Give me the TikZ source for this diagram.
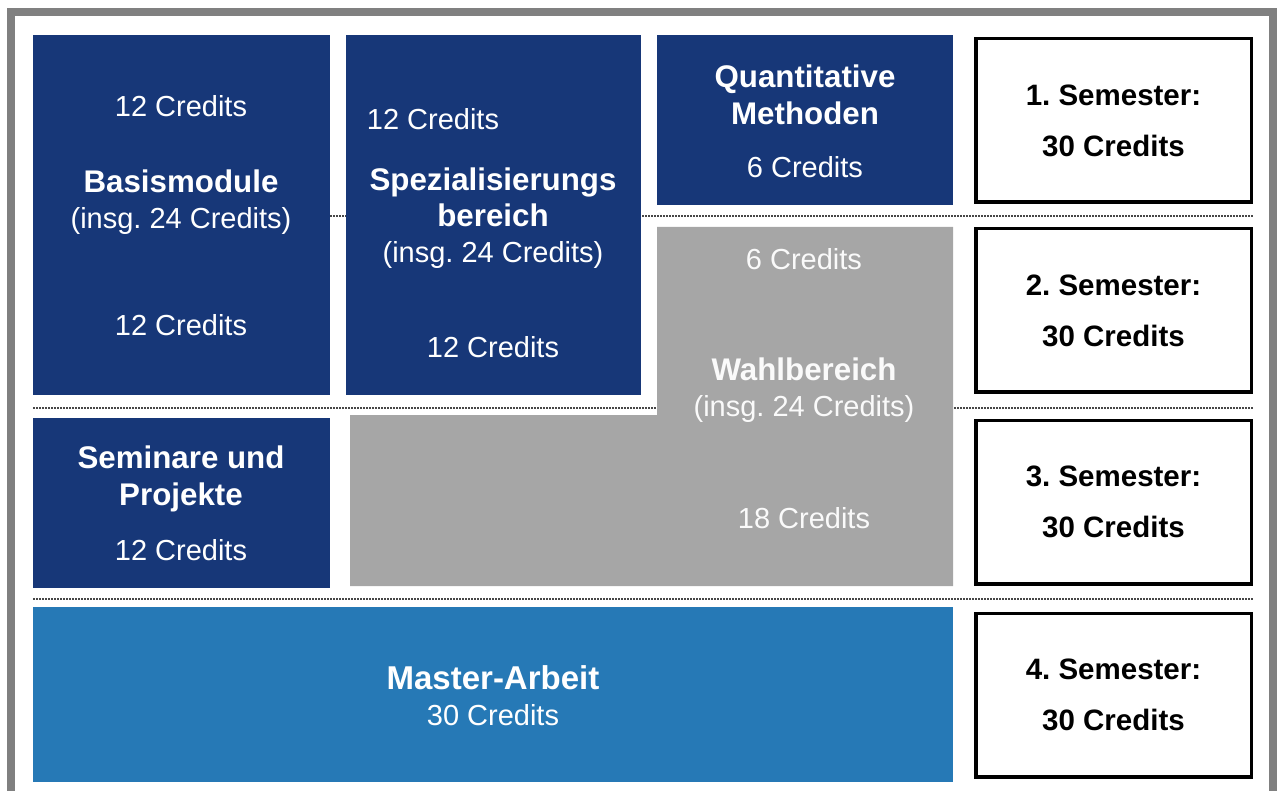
\documentclass[tikz,border=0pt]{standalone}
\usepackage{fontspec}
\setmainfont{Liberation Sans}
\usetikzlibrary{positioning}
\definecolor{unidark}{RGB}{23,55,120}
\definecolor{unimid}{RGB}{38,121,182}
\definecolor{wahlgray}{RGB}{166,166,166}
\definecolor{framegray}{RGB}{128,128,128}
\definecolor{dotgray}{RGB}{70,70,70}
\newcommand{\modhead}[1]{{\fontsize{31.3}{36}\selectfont\bfseries #1}}
\frenchspacing

\begin{document}
\begin{tikzpicture}[x=1pt, y=-1pt, font=\fontsize{29}{36}\selectfont,
            modbox/.style={fill=unidark, inner sep=0pt},
            modtext/.style={text=white, align=center, inner sep=0pt},
            wahltext/.style={text=white!96!gray, align=center, inner sep=0pt},
            sembox/.style={draw=black, line width=3.5pt, fill=white, minimum width=275.5pt, minimum height=163.5pt,
                align=center, font=\fontsize{29.5}{51}\selectfont\bfseries},
            semline/.style={dotgray, line width=2.2pt, dash pattern=on 1.6pt off 1.4pt}]

            \useasboundingbox (0,0) rectangle (1277,791);
            \clip (0,0) rectangle (1277,791);

            % Outer frame
            \draw[framegray, line width=8pt] (11,12) rectangle (1273,830);

            % Semester separators (behind the boxes)
            \draw[semline] (33,216) -- (1253,216);
            \draw[semline] (33,408) -- (1253,408);
            \draw[semline] (33,599) -- (1253,599);

            % Module blocks
            \node[modbox, minimum width=297pt, minimum height=360pt] (basis) at (181.5,215) {};
            \node[modbox, minimum width=295pt, minimum height=360pt] (spez) at (493.5,215) {};
            \node[modbox, minimum width=296pt, minimum height=170pt] (quant) at (805,120) {};
            \node[modbox, minimum width=297pt, minimum height=170pt] (sem) at (181.5,503) {};
            \node[fill=unimid, inner sep=0pt, minimum width=920pt, minimum height=175pt] (master) at (493,694.5) {};

            % Wahlbereich (L-shape)
            \fill[wahlgray] (657,227) -- (953,227) -- (953,586) -- (350,586) -- (350,415) -- (657,415) -- cycle;

            % Texts in the modules
            \node[modtext] (basis-a) at (181,106) {12 Credits};
            \node[modtext] (basis-t) at (181,202) {\modhead{Basismodule}\\(insg. 24 Credits)};
            \node[modtext] (basis-b) at (181,325) {12 Credits};

            \node[modtext] (spez-a) at (433,119) {12 Credits};
            \node[modtext] (spez-t) at (493,218) {\modhead{Spezialisierungs}\\\modhead{bereich}\\(insg. 24 Credits)};
            \node[modtext] (spez-b) at (493,347) {12 Credits};

            \node[modtext, font=\fontsize{31.3}{37}\selectfont\bfseries] (quant-t) at (805,95) {Quantitative\\Methoden};
            \node[modtext] (quant-c) at (805,167) {6 Credits};

            \node[wahltext] (wahl-a) at (804,259) {6 Credits};
            \node[wahltext] (wahl-t) at (804,390) {\modhead{Wahlbereich}\\(insg. 24 Credits)};
            \node[wahltext] (wahl-b) at (804,518) {18 Credits};

            \node[modtext, font=\fontsize{31.3}{37}\selectfont\bfseries] (sem-t) at (181,479) {Seminare und\\Projekte};
            \node[modtext] (sem-c) at (181,550) {12 Credits};

            \node[modtext] (master-t) at (493,696) {{\fontsize{33}{36}\selectfont\bfseries Master-Arbeit}\\30 Credits};

            % Semester boxes
            \foreach \i/\y in {1/120.5, 2/310.5, 3/502, 4/695}
                \node[sembox] (s\i) at (1113.5,\y) {\i. Semester:\\30 Credits};
        \end{tikzpicture}
\end{document}
